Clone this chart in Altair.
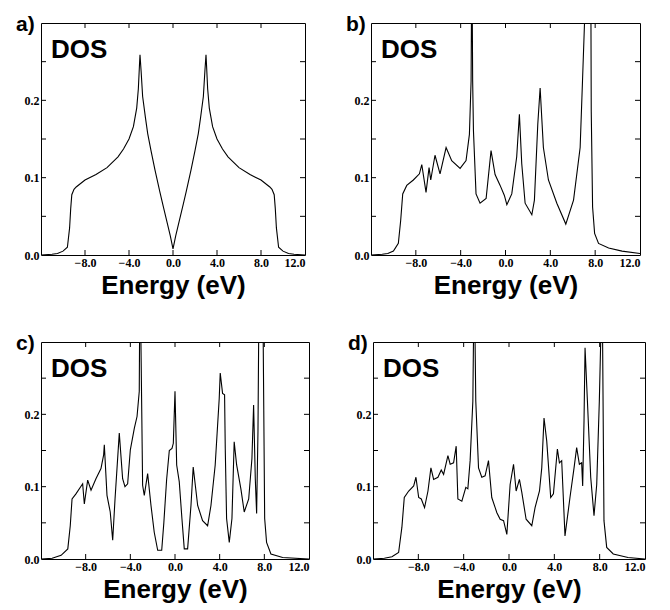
import altair as alt
import pandas as pd

# ---------------- data ----------------
E_a = [-12.0, -11.0, -10.5, -10.0, -9.6, -9.4, -9.3, -9.2, -9.0, -8.8, -8.0, -7.0, -6.0,
       -5.0, -4.5, -4.0, -3.6, -3.3, -3.15, -3.05, -3.0, -2.9, -2.76, -2.5, -2.3, -2.0,
       -1.64, -1.2, -0.94, -0.5, -0.25, 0.0, 0.25, 0.5, 0.94, 1.2, 1.64, 2.0, 2.3, 2.5,
       2.76, 2.9, 3.0, 3.05, 3.15, 3.3, 3.6, 4.0, 4.5, 5.0, 6.0, 7.0, 8.0, 8.8, 9.0, 9.2,
       9.3, 9.4, 9.6, 10.0, 10.5, 11.0, 12.0]
D_a = [0.0, 0.001, 0.002, 0.005, 0.010, 0.035, 0.060, 0.078, 0.085, 0.088, 0.097, 0.104,
       0.113, 0.127, 0.137, 0.150, 0.166, 0.190, 0.215, 0.245, 0.259, 0.238, 0.205, 0.177,
       0.157, 0.135, 0.110, 0.082, 0.066, 0.040, 0.025, 0.008, 0.025, 0.040, 0.066, 0.082,
       0.110, 0.135, 0.157, 0.177, 0.205, 0.238, 0.259, 0.245, 0.215, 0.190, 0.166, 0.150,
       0.137, 0.127, 0.113, 0.104, 0.097, 0.088, 0.085, 0.078, 0.060, 0.035, 0.010, 0.005,
       0.002, 0.001, 0.0]

E_b = [-12.0, -11.0, -10.5, -10.0, -9.56, -9.35, -9.17, -8.81, -8.22, -7.68, -7.47, -7.09,
       -6.82, -6.67, -6.29, -5.84, -5.30, -4.8, -4.05, -3.52, -3.22, -3.07, -3.0, -2.93,
       -2.86, -2.63, -2.27, -1.73, -1.29, -0.93, -0.48, -0.1, 0.12, 0.56, 1.0, 1.24, 1.45,
       1.75, 2.35, 2.58, 2.88, 3.09, 3.38, 3.83, 4.58, 5.38, 6.07, 6.66, 6.87, 7.05, 7.35,
       7.62, 7.65, 7.77, 7.95, 8.3, 9.2, 10.4, 12.0]
D_b = [0.0, 0.001, 0.002, 0.005, 0.015, 0.045, 0.079, 0.090, 0.097, 0.105, 0.117, 0.081,
       0.113, 0.097, 0.129, 0.105, 0.139, 0.122, 0.112, 0.122, 0.156, 0.225, 0.40, 0.225,
       0.161, 0.079, 0.067, 0.073, 0.135, 0.104, 0.090, 0.077, 0.065, 0.079, 0.127, 0.182,
       0.118, 0.067, 0.052, 0.071, 0.169, 0.216, 0.139, 0.097, 0.067, 0.040, 0.071, 0.139,
       0.225, 0.30, 0.45, 0.32, 0.186, 0.062, 0.028, 0.015, 0.009, 0.005, 0.002]

E_c = [-12.0, -11.0, -10.2, -9.6, -9.38, -9.22, -8.87, -8.27, -8.12, -7.82, -7.52, -7.08,
       -6.63, -6.39, -6.33, -6.09, -5.8, -5.58, -5.37, -4.99, -4.69, -4.48, -4.24, -4.0,
       -3.64, -3.4, -3.2, -3.14, -3.05, -2.9, -2.75, -2.45, -2.15, -1.86, -1.55, -1.19,
       -1.0, -0.75, -0.51, -0.27, -0.15, 0.0, 0.15, 0.38, 0.62, 0.83, 1.13, 1.43, 1.63,
       2.03, 2.47, 2.92, 3.22, 3.6, 3.96, 4.05, 4.26, 4.44, 4.5, 4.62, 4.86, 5.1, 5.3,
       5.52, 5.9, 6.2, 6.6, 6.89, 7.04, 7.19, 7.31, 7.43, 7.49, 7.7, 7.9, 8.03, 8.2,
       8.59, 9.64, 12.0]
D_c = [0.0, 0.001, 0.005, 0.014, 0.046, 0.083, 0.090, 0.104, 0.076, 0.109, 0.095, 0.111,
       0.125, 0.144, 0.158, 0.088, 0.065, 0.026, 0.083, 0.174, 0.111, 0.100, 0.104, 0.151,
       0.181, 0.197, 0.232, 0.40, 0.30, 0.102, 0.088, 0.118, 0.074, 0.037, 0.012, 0.012,
       0.050, 0.110, 0.150, 0.153, 0.160, 0.232, 0.130, 0.107, 0.056, 0.014, 0.014, 0.074,
       0.127, 0.074, 0.053, 0.046, 0.074, 0.130, 0.222, 0.257, 0.229, 0.227, 0.153, 0.056,
       0.023, 0.056, 0.162, 0.130, 0.097, 0.065, 0.083, 0.139, 0.213, 0.111, 0.063, 0.176,
       0.30, 0.45, 0.30, 0.056, 0.023, 0.007, 0.002, 0.0]

E_d = [-12.0, -11.0, -10.33, -9.74, -9.45, -9.24, -8.85, -8.41, -8.21, -7.97, -7.74, -7.45,
       -7.15, -6.89, -6.65, -6.27, -5.98, -5.77, -5.39, -5.19, -4.89, -4.66, -4.51, -4.16,
       -3.81, -3.63, -3.43, -3.19, -3.07, -2.93, -2.69, -2.40, -2.11, -1.81, -1.52, -1.22,
       -1.07, -0.78, -0.48, -0.19, 0.10, 0.40, 0.63, 0.92, 1.13, 1.51, 2.01, 2.30, 2.69,
       2.89, 3.09, 3.33, 3.68, 3.92, 4.27, 4.45, 4.65, 4.94, 5.38, 5.74, 5.97, 6.21, 6.41,
       6.50, 6.62, 6.71, 6.92, 7.21, 7.50, 7.74, 7.97, 8.09, 8.17, 8.26, 8.38, 8.62, 9.2,
       10.5, 12.0]
D_d = [0.0, 0.001, 0.003, 0.009, 0.044, 0.085, 0.094, 0.101, 0.113, 0.085, 0.083, 0.071,
       0.094, 0.126, 0.110, 0.113, 0.123, 0.117, 0.143, 0.131, 0.133, 0.156, 0.083, 0.080,
       0.099, 0.097, 0.136, 0.218, 0.40, 0.218, 0.126, 0.113, 0.115, 0.136, 0.085, 0.071,
       0.064, 0.055, 0.053, 0.034, 0.103, 0.131, 0.094, 0.110, 0.092, 0.055, 0.046, 0.071,
       0.094, 0.126, 0.195, 0.163, 0.085, 0.090, 0.152, 0.133, 0.136, 0.032, 0.085, 0.126,
       0.154, 0.131, 0.133, 0.101, 0.191, 0.292, 0.218, 0.113, 0.060, 0.103, 0.218, 0.30,
       0.40, 0.30, 0.053, 0.016, 0.007, 0.002, 0.0]

X_LABELS = [-8, -4, 0, 4, 8, 12]
Y_LABELS = [0.0, 0.1, 0.2]
X_TICKS = [-8, -4, 0, 4, 8]
Y_TICKS = [0.05, 0.1, 0.15, 0.2, 0.25]
X_DOMAIN = [-12, 12]
Y_DOMAIN = [0, 0.3]
PANEL_LABELS = ["a)", "b)", "c)", "d)"]
INNER_TEXT = "DOS"
X_TITLE = "Energy (eV)"

SANS = "'Liberation Sans', Arial, Helvetica, sans-serif"
SERIF = "'Liberation Serif', 'Times New Roman', serif"


def panel(E, D, label, w, h):
    xs = alt.Scale(domain=X_DOMAIN, nice=False, zero=False)
    ys = alt.Scale(domain=Y_DOMAIN, nice=False, zero=False)
    xax = alt.Axis(values=X_LABELS, format=".1f", title=X_TITLE)
    yax = alt.Axis(values=Y_LABELS, format=".1f", title=None)
    df = pd.DataFrame({"E": E, "D": D})
    line = alt.Chart(df).mark_line(color="black", strokeWidth=1.1, clip=True).encode(
        x=alt.X("E:Q", scale=xs, axis=xax),
        y=alt.Y("D:Q", scale=ys, axis=yax),
    )
    xt = pd.DataFrame({"t": X_TICKS})
    yt = pd.DataFrame({"t": Y_TICKS})
    top = alt.Chart(xt).mark_rule(color="black", strokeWidth=1).encode(
        x=alt.X("t:Q", scale=xs, axis=xax), y=alt.value(0), y2=alt.value(5))
    bot = alt.Chart(xt).mark_rule(color="black", strokeWidth=1).encode(
        x=alt.X("t:Q", scale=xs, axis=xax), y=alt.value(h), y2=alt.value(h - 5))
    lef = alt.Chart(yt).mark_rule(color="black", strokeWidth=1).encode(
        y=alt.Y("t:Q", scale=ys, axis=yax), x=alt.value(0), x2=alt.value(5))
    rig = alt.Chart(yt).mark_rule(color="black", strokeWidth=1).encode(
        y=alt.Y("t:Q", scale=ys, axis=yax), x=alt.value(w), x2=alt.value(w - 5))
    dos = alt.Chart(pd.DataFrame({"s": [INNER_TEXT]})).mark_text(
        font=SANS, fontSize=26, fontWeight="bold", align="left",
        baseline="alphabetic", color="black").encode(
        text="s:N", x=alt.value(10), y=alt.value(35))
    lab = alt.Chart(pd.DataFrame({"s": [label]})).mark_text(
        font=SANS, fontSize=21, fontWeight="bold", align="left",
        baseline="alphabetic", color="black").encode(
        text="s:N", x=alt.value(-25), y=alt.value(8))
    return alt.layer(line, top, bot, lef, rig, dos, lab).properties(width=w, height=h)


pa = panel(E_a, D_a, PANEL_LABELS[0], 264, 232)
pb = panel(E_b, D_b, PANEL_LABELS[1], 269, 232)
pc = panel(E_c, D_c, PANEL_LABELS[2], 268, 217)
pd_ = panel(E_d, D_d, PANEL_LABELS[3], 272, 217)

chart = alt.vconcat(
    alt.hconcat(pa, pb, spacing=39),
    alt.hconcat(pc, pd_, spacing=37),
    spacing=33,
).properties(
    padding={"left": 7, "top": 5, "right": 5, "bottom": 5}
).configure_view(
    stroke="black", strokeWidth=1
).configure_axis(
    domain=False, ticks=False, grid=False,
    labelFont=SERIF, labelFontWeight="bold", labelFontSize=12, labelColor="black",
    labelPadding=2,
    titleFont=SANS, titleFontWeight="bold", titleFontSize=26, titleColor="black",
    titlePadding=4,
)

chart.save("out.html", embed_options={"renderer": "svg", "actions": False})
